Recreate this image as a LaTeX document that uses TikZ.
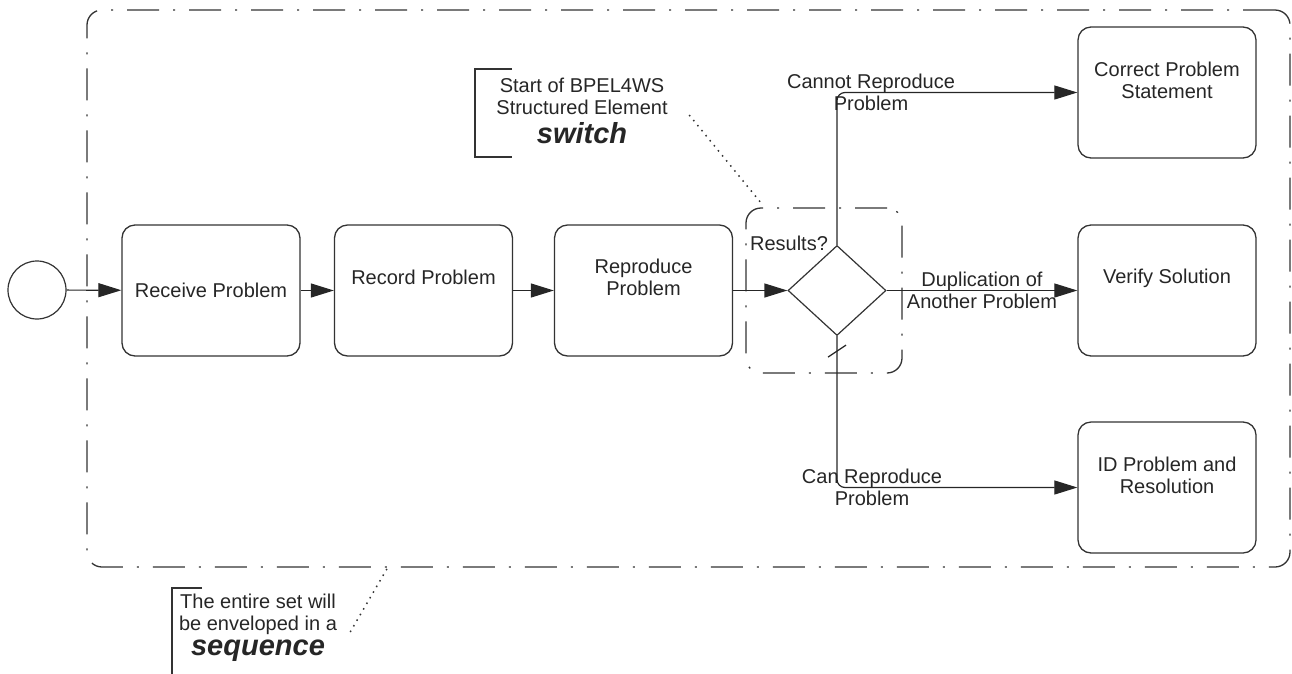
\documentclass[tikz,border=0pt]{standalone}
\usepackage{fontspec}
\setmainfont{Liberation Sans}
\usetikzlibrary{arrows.meta, positioning, shapes.geometric}

\begin{document}
\begin{tikzpicture}[
  x=1pt, y=-1pt,
  every node/.style={font=\fontsize{20}{22}\selectfont, text=black!85},
  task/.style={draw=black!80, line width=1.3pt, rounded corners=13pt, minimum width=178pt, minimum height=131pt, align=center, inner sep=0pt},
  up/.style={text depth=#1},
  flow/.style={-{Triangle[length=23pt, width=14pt]}, line width=1.2pt, draw=black!85},
  grp/.style={draw=black!80, rounded corners=15pt, line width=1.3pt, dash pattern=on 32pt off 14pt on 2pt off 14pt},
  assoc/.style={draw=black!80, line width=1.5pt, dash pattern=on 1.5pt off 5pt},
  lbl/.style={align=center, inner sep=0pt},
  note/.style={align=center, inner sep=0pt}
]
  \useasboundingbox (0,0) rectangle (1292,673);
  \clip (0,0) rectangle (1292,673);

  % envelope (sequence)
  \node[grp, minimum width=1203pt, minimum height=557pt] (env) at (688.5,288.5) {};
  \coordinate (envHook) at (388,567);

  \node[circle, draw=black!80, line width=1.2pt, minimum size=58pt, inner sep=0pt] (start) at (37,290) {};
  \node[task] (rcv) at (211,290.5) {Receive Problem};
  \node[task, up=27pt] (rec) at (423.5,290.5) {Record Problem};
  \node[task, up=26pt] (rep) at (643.5,290.5) {Reproduce\\Problem};

  % switch
  \node[grp, minimum width=156pt, minimum height=165pt] (swGrp) at (824,290.5) {};
  \node[diamond, draw=black!80, line width=1.2pt, minimum width=98pt, minimum height=90pt, inner sep=0pt] (gw) at (837,290.5) {};
  \node (gwQ) at (789,243) {Results?};

  \node[task, up=25pt] (cps) at (1167,92.5) {Correct Problem\\Statement};
  \node[task, up=28pt] (ver) at (1167,290.5) {Verify Solution};
  \node[task, up=25pt] (idr) at (1167,487.5) {ID Problem and\\Resolution};

  \draw[flow] (start) -- (rcv);
  \draw[flow] (rcv) -- (rec);
  \draw[flow] (rec) -- (rep);
  \draw[flow] (rep) -- (gw);
  \draw[flow] (gw) -- node[lbl] {Duplication of\\Another Problem} (ver);
  \draw[flow, rounded corners=8pt] (gw.north) |- node[lbl, pos=0.5, xshift=34pt] {Cannot Reproduce\\Problem} (cps);
  \draw[flow, rounded corners=8pt] (gw.south) |- node[lbl, pos=0.5, xshift=35pt] {Can Reproduce\\Problem} (idr);
  % default marker
  \draw[line width=1.2pt, draw=black!85] ([shift={(-9,21)}]gw.south) -- ([shift={(9,9)}]gw.south);

  % annotations
  \node[note, minimum width=214pt] (swNote) at (582,111) {Start of BPEL4WS\\Structured Element\\[7pt]{\fontsize{29}{30}\selectfont\bfseries\itshape switch}};
  \draw[line width=1.5pt, draw=black!80] (512,69) -| (475,157) -- (512,157);
  \draw[assoc] ([yshift=-4pt]swNote.east) -- ([xshift=16pt, yshift=4pt]swGrp.north west);

  \node[note, minimum width=172pt] (seqNote) at (258,628) {\fontsize{20}{20}\selectfont The entire set will\\be enveloped in a\\[3pt]{\fontsize{29}{30}\selectfont\bfseries\itshape sequence}};
  \draw[line width=1.5pt, draw=black!80] (202,588) -| (172,690);
  \draw[assoc] ([xshift=6pt, yshift=-4pt]seqNote.east) -- (envHook);
\end{tikzpicture}
\end{document}
